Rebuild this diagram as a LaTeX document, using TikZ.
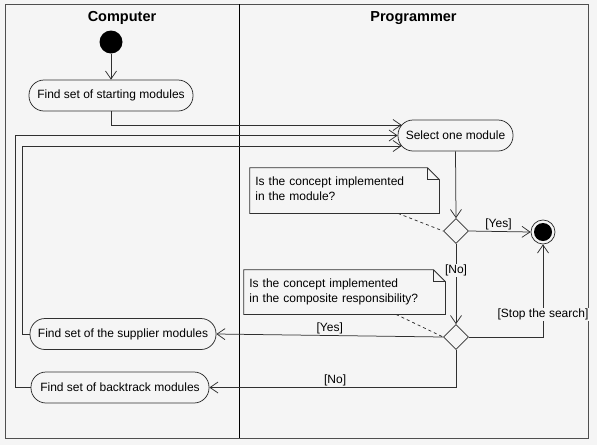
\documentclass[tikz,border=0pt]{standalone}
\usepackage{fontspec}
\setmainfont{Liberation Sans}
\usetikzlibrary{arrows.meta,shapes.geometric,calc}
\definecolor{bg}{HTML}{F5F5F5}
\definecolor{ln}{HTML}{303030}
\tikzset{
  act/.style={draw=ln, fill=bg, rounded corners=15pt, minimum height=31pt, inner sep=0pt, font=\fontsize{12}{14}\selectfont},
  dec/.style={draw=ln, fill=bg, diamond, minimum width=25pt, minimum height=25pt, inner sep=0pt},
  arr/.style={draw=ln, -{Straight Barb[length=8pt,width=11pt]}},
  lbl/.style={font=\fontsize{12}{14}\selectfont, inner sep=1pt},
  lblbg/.style={lbl, fill=bg},
  notetxt/.style={font=\fontsize{12}{15.5}\selectfont, align=left, text width=180pt, inner sep=0pt, anchor=north west},
  hdr/.style={font=\fontsize{14.5}{16}\selectfont\bfseries},
}
\begin{document}
\begin{tikzpicture}[x=1pt,y=-1pt,line width=0.75pt]
\fill[bg] (0,0) rectangle (597,445);
\useasboundingbox (0,0) rectangle (597,445);
% frame and swimlanes
\draw[draw=ln!85] (5,4) rectangle (588,438);
\draw[black] (239,4) -- (239,438);
\node[hdr] (hcomp) at (122,18) {Computer};
\node[hdr] (hprog) at (413.5,18) {Programmer};

% nodes
\node[circle, fill=black, minimum size=23pt, inner sep=0pt] (start) at (111,42) {};
\node[act, minimum width=164pt] (startmods) at (111,95.5) {Find set of starting modules};
\node[act, minimum width=115pt] (sel) at (455.5,135.5) {Select one module};
\node[dec] (d1) at (456,231) {};
\node[circle, draw=ln, fill=bg, minimum size=24pt, inner sep=0pt] (fin) at (543,232) {};
\fill[black] (fin.center) circle (9pt);
\node[dec] (d2) at (456,337) {};
\node[act, minimum width=186pt] (supp) at (123,334) {Find set of the supplier modules};
\node[act, minimum width=178pt] (back) at (120,387.5) {Find set of backtrack modules};

% notes
\node[minimum width=189pt, minimum height=45pt, inner sep=0pt] (note1) at (344.5,190.5) {};
\draw[ln, fill=bg] (note1.north west) -- ([xshift=-12pt]note1.north east) -- ([yshift=-12pt]note1.north east) -- (note1.south east) -- (note1.south west) -- cycle;
\draw[ln] ([xshift=-12pt]note1.north east) -- ([xshift=-12pt,yshift=-12pt]note1.north east) -- ([yshift=-12pt]note1.north east);
\node[notetxt] (note1t) at (255,176) {Is the concept implemented\\in the module?};

\node[minimum width=201pt, minimum height=44pt, inner sep=0pt] (note2) at (344.5,292) {};
\draw[ln, fill=bg] (note2.north west) -- ([xshift=-12pt]note2.north east) -- ([yshift=-12pt]note2.north east) -- (note2.south east) -- (note2.south west) -- cycle;
\draw[ln] ([xshift=-12pt]note2.north east) -- ([xshift=-12pt,yshift=-12pt]note2.north east) -- ([yshift=-12pt]note2.north east);
\node[notetxt] (note2t) at (249,278) {Is the concept implemented\\in the composite responsibility?};

% connectors
\draw[arr] (start) -- (startmods);
\draw[arr] (startmods.south) |- ([xshift=4pt,yshift=10.5pt]sel.west);
\draw[arr] (back.west) -| (15,135.5) -- (sel.west);
\draw[arr] (supp.west) -| (22,146) -- ([xshift=4pt,yshift=-10.5pt]sel.west);
\draw[arr] (sel.south) -- (d1.north);
\draw[arr] (d1.east) -- node[lbl, above, pos=0.48] (lyes1) {[Yes]} (fin.west);
\draw[arr] (d1.south) -- node[lblbg, pos=0.33] (lno1) {[No]} (d2.north);
\draw[arr] (d2.east) -| node[lblbg, pos=0.62] (lstop) {[Stop the search]} (fin.south);
\draw[arr] (d2.west) -- node[lbl, above, pos=0.5] (lyes2) {[Yes]} (supp.east);
\draw[arr] (d2.south) |- node[lbl, above, pos=0.745] (lno2) {[No]} (back.east);
\draw[ln, dashed] ([xshift=53.5pt]note1.south) -- (d1.west);
\draw[ln, dashed] ([xshift=51.5pt]note2.south) -- (d2.west);
\end{tikzpicture}
\end{document}
